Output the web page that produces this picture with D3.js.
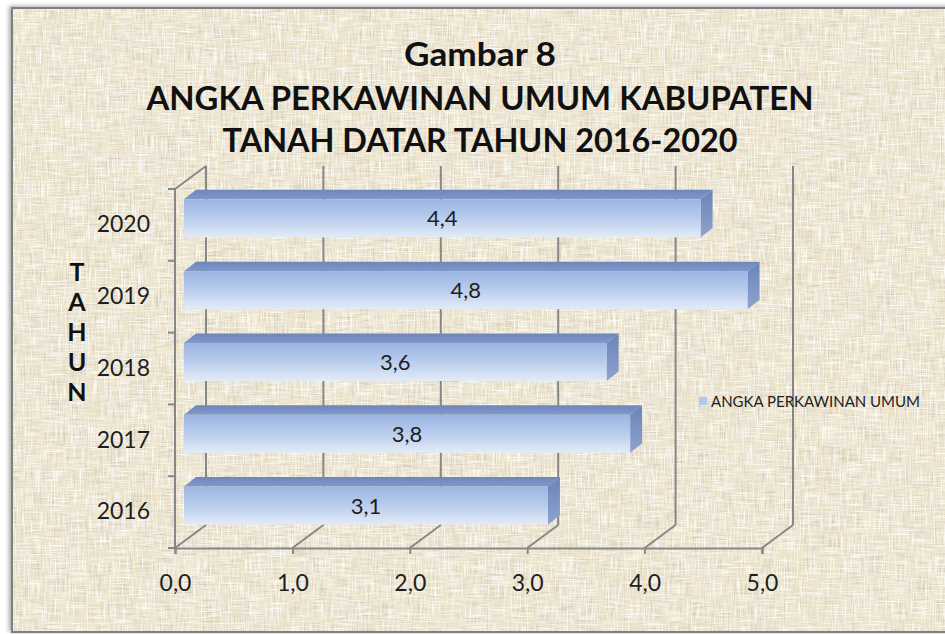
<!DOCTYPE html>
<html>
<head>
<meta charset="utf-8">
<script src="https://cdn.jsdelivr.net/npm/d3@7"></script>
<style>
  html, body { margin: 0; padding: 0; background: #ffffff; }
  svg { display: block; }
</style>
</head>
<body>
<svg id="chart" width="945" height="634"></svg>
<script>
// data
var years = ["2016", "2017", "2018", "2019", "2020"];
var values = [3.1, 3.8, 3.6, 4.8, 4.4];
var xTicks = [0, 1, 2, 3, 4, 5];
var titleLines = ["Gambar 8", "ANGKA PERKAWINAN UMUM KABUPATEN", "TANAH DATAR TAHUN 2016-2020"];
var axisTitle = "TAHUN";
var seriesName = "ANGKA PERKAWINAN UMUM";

var svg = d3.select("#chart");
var defs = svg.append("defs");

// canvas / burlap look for the chart area
var f = defs.append("filter").attr("id", "canvas")
	.attr("x", 0).attr("y", 0).attr("width", 1).attr("height", 1);
f.append("feTurbulence").attr("type", "fractalNoise").attr("baseFrequency", "0.7 0.045")
	.attr("numOctaves", 2).attr("seed", 4).attr("result", "nv");
f.append("feTurbulence").attr("type", "fractalNoise").attr("baseFrequency", "0.045 0.7")
	.attr("numOctaves", 2).attr("seed", 9).attr("result", "nh");
f.append("feColorMatrix").attr("in", "nv").attr("type", "matrix")
	.attr("values", "0 0 0 0 0.58  0 0 0 0 0.53  0 0 0 0 0.43  2.0 0 0 0 -1.05").attr("result", "dv");
f.append("feColorMatrix").attr("in", "nh").attr("type", "matrix")
	.attr("values", "0 0 0 0 0.58  0 0 0 0 0.53  0 0 0 0 0.43  2.0 0 0 0 -1.05").attr("result", "dh");
f.append("feColorMatrix").attr("in", "nv").attr("type", "matrix")
	.attr("values", "0 0 0 0 1  0 0 0 0 1  0 0 0 0 0.97  0 2.4 0 0 -1.2").attr("result", "lv");
f.append("feColorMatrix").attr("in", "nh").attr("type", "matrix")
	.attr("values", "0 0 0 0 1  0 0 0 0 1  0 0 0 0 0.97  0 2.4 0 0 -1.2").attr("result", "lh");
var merge = f.append("feMerge");
["SourceGraphic", "dv", "dh", "lv", "lh"].forEach(function(n){
	merge.append("feMergeNode").attr("in", n);
});

var sh = defs.append("filter").attr("id", "shadow")
	.attr("x", "-5%").attr("y", "-5%").attr("width", "110%").attr("height", "110%");
sh.append("feDropShadow").attr("dx", -2).attr("dy", -1).attr("stdDeviation", 2)
	.attr("flood-color", "#000").attr("flood-opacity", 0.35);

function grad(id, stops, x2, y2){
	var g = defs.append("linearGradient").attr("id", id)
		.attr("x1", 0).attr("y1", 0).attr("x2", x2).attr("y2", y2);
	stops.forEach(function(s){
		g.append("stop").attr("offset", s[0]).attr("stop-color", s[1]);
	});
}
grad("front", [["0%", "#9bb5e2"], ["45%", "#b6caec"], ["100%", "#e3ebf7"]], 0, 1);
grad("top", [["0%", "#6e86bb"], ["100%", "#8198c9"]], 0, 1);
grad("side", [["0%", "#6b83b6"], ["100%", "#8ea4cf"]], 0, 1);

// frame
svg.append("rect")
	.attr("x", 12).attr("y", 8)
	.attr("width", 945).attr("height", 624)
	.attr("fill", "#ede4ce")
	.attr("stroke", "#7f7f7f").attr("stroke-width", 2)
	.attr("filter", "url(#shadow)");
svg.append("rect")
	.attr("x", 13).attr("y", 9)
	.attr("width", 940).attr("height", 622)
	.attr("fill", "#ede4ce")
	.attr("filter", "url(#canvas)");

// scales
var x = d3.scaleLinear().domain([0, 5]).range([175, 762]);
var y = d3.scaleBand().domain(years.slice().reverse()).range([189, 548]);
var yBar = y.copy().paddingInner(0.47).paddingOuter(0.235);

var depth = [31, -23];      // floor / wall depth
var barOff = [9, -6.5];     // bar front plane
var barDepth = [12, -9.5];  // bar thickness
var grid = "#878787";
var yTop = y.range()[0], yBot = y.range()[1];

// back wall gridlines
svg.append("g").selectAll("line").data(xTicks).join("line")
	.attr("x1", function(d){ return x(d) + depth[0]; })
	.attr("x2", function(d){ return x(d) + depth[0]; })
	.attr("y1", yTop + depth[1])
	.attr("y2", yBot + depth[1])
	.attr("stroke", grid).attr("stroke-width", 2);

// floor
svg.append("g").selectAll("line").data(xTicks).join("line")
	.attr("x1", function(d){ return x(d); })
	.attr("y1", yBot)
	.attr("x2", function(d){ return x(d) + depth[0]; })
	.attr("y2", yBot + depth[1])
	.attr("stroke", grid).attr("stroke-width", 2);

// side wall
svg.append("line")
	.attr("x1", x(0)).attr("y1", yTop)
	.attr("x2", x(0)).attr("y2", yBot)
	.attr("stroke", grid).attr("stroke-width", 2);
svg.append("line")
	.attr("x1", x(0)).attr("y1", yTop)
	.attr("x2", x(0) + depth[0]).attr("y2", yTop + depth[1])
	.attr("stroke", grid).attr("stroke-width", 2);

var bounds = y.domain().map(function(d){ return y(d); }).concat([yBot]);
svg.append("g").selectAll("line").data(bounds).join("line")
	.attr("x1", x(0) - 7).attr("x2", x(0))
	.attr("y1", function(d){ return d; })
	.attr("y2", function(d){ return d; })
	.attr("stroke", grid).attr("stroke-width", 2);

// bars
var rows = years.map(function(d, i){ return {year: d, value: values[i]}; });
var bars = svg.append("g").selectAll("g").data(rows).join("g");

bars.each(function(d){
	var g = d3.select(this);
	var x0 = x(0) + barOff[0], x1 = x(d.value) + barOff[0];
	var yT = yBar(d.year) + barOff[1], yB = yT + yBar.bandwidth();
	var bx = barDepth[0], by = barDepth[1];

	g.append("polygon")
		.attr("points", [[x0, yT], [x1, yT], [x1 + bx, yT + by], [x0 + bx, yT + by]].join(" "))
		.attr("fill", "url(#top)");
	g.append("polygon")
		.attr("points", [[x1, yT], [x1 + bx, yT + by], [x1 + bx, yB + by], [x1, yB]].join(" "))
		.attr("fill", "url(#side)");
	g.append("rect")
		.attr("x", x0).attr("y", yT)
		.attr("width", x1 - x0).attr("height", yB - yT)
		.attr("fill", "url(#front)");
	g.append("text")
		.attr("x", (x0 + x1) / 2)
		.attr("y", (yT + yB) / 2)
		.attr("dy", "0.36em")
		.attr("text-anchor", "middle")
		.attr("font-family", "Lato, 'Open Sans', sans-serif")
		.attr("font-size", 22)
		.attr("fill", "#1e1e1e")
		.text(String(d.value).replace(".", ","));
});

// axes
var fmt = function(d){ return d3.format(".1f")(d).replace(".", ","); };
var xAxis = svg.append("g")
	.attr("transform", "translate(0," + yBot + ")")
	.call(d3.axisBottom(x).tickValues(xTicks).tickFormat(fmt).tickSizeOuter(0).tickSize(6).tickPadding(21));
xAxis.select(".domain").attr("stroke", grid).attr("stroke-width", 2);
xAxis.selectAll(".tick line").attr("stroke", grid).attr("stroke-width", 2);
xAxis.selectAll("text")
	.attr("font-family", "Lato, 'Open Sans', sans-serif")
	.attr("font-size", 23).attr("fill", "#1e1e1e");

var yAxis = svg.append("g")
	.attr("transform", "translate(" + x(0) + ",0)")
	.call(d3.axisLeft(y).tickSize(0).tickPadding(25));
yAxis.select(".domain").remove();
yAxis.selectAll("text")
	.attr("font-family", "Lato, 'Open Sans', sans-serif")
	.attr("font-size", 23).attr("fill", "#1e1e1e");

// axis title, letters stacked
svg.append("g").selectAll("text").data(axisTitle.split("")).join("text")
	.attr("x", 77)
	.attr("y", function(d, i){ return 281 + i * 30; })
	.attr("text-anchor", "middle")
	.attr("font-family", "Lato, 'Open Sans', sans-serif")
	.attr("font-weight", "bold")
	.attr("font-size", 25)
	.attr("fill", "#111")
	.text(function(d){ return d; });

// title
var titleY = [66, 110, 152];
var titleW = [152, 667, 515];
svg.append("g").selectAll("text").data(titleLines).join("text")
	.attr("x", 480)
	.attr("y", function(d, i){ return titleY[i]; })
	.attr("text-anchor", "middle")
	.attr("textLength", function(d, i){ return titleW[i]; })
	.attr("lengthAdjust", "spacingAndGlyphs")
	.attr("font-family", "Lato, 'Open Sans', sans-serif")
	.attr("font-weight", "bold")
	.attr("font-size", 32)
	.attr("fill", "#111")
	.text(function(d){ return d; });

// legend
svg.append("rect")
	.attr("x", 699).attr("y", 397)
	.attr("width", 8).attr("height", 8)
	.attr("fill", "#b3c8ec");
svg.append("text")
	.attr("x", 711).attr("y", 407)
	.attr("textLength", 209)
	.attr("lengthAdjust", "spacingAndGlyphs")
	.attr("font-family", "Lato, 'Open Sans', sans-serif")
	.attr("font-size", 16)
	.attr("fill", "#222")
	.text(seriesName);
</script>
</body>
</html>
